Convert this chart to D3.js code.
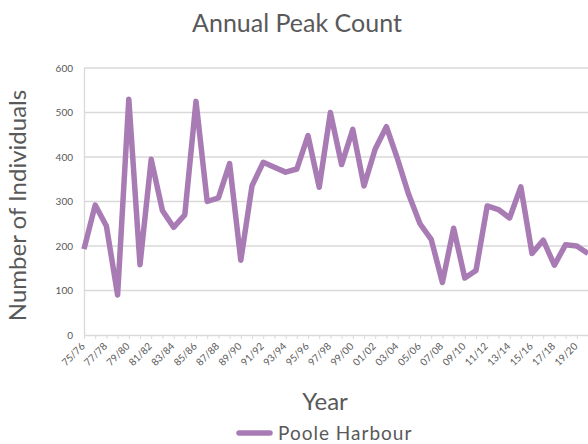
<!DOCTYPE html>
<html>
<head>
<meta charset="utf-8">
<script src="https://cdn.jsdelivr.net/npm/d3@7"></script>
<style>
  body { margin: 0; background: #fff; }
  #chart text { font-family: "Lato", "Open Sans", sans-serif; fill: #595959; }
</style>
</head>
<body>
<div id="chart"></div>
<script>
// seasons 75/76 .. 20/21
const seasons = [
  "75/76","76/77","77/78","78/79","79/80","80/81","81/82","82/83","83/84","84/85",
  "85/86","86/87","87/88","88/89","89/90","90/91","91/92","92/93","93/94","94/95",
  "95/96","96/97","97/98","98/99","99/00","00/01","01/02","02/03","03/04","04/05",
  "05/06","06/07","07/08","08/09","09/10","10/11","11/12","12/13","13/14","14/15",
  "15/16","16/17","17/18","18/19","19/20","20/21"
];
const pooleHarbour = [
  193, 292, 245, 90, 530, 158, 395, 280, 242, 270,
  525, 300, 308, 385, 168, 335, 388, 377, 366, 373,
  448, 332, 500, 383, 462, 335, 418, 468, 395, 315,
  250, 215, 118, 240, 128, 145, 290, 282, 263, 333,
  183, 213, 157, 203, 200, 183
];
const yTicks = [0, 100, 200, 300, 400, 500, 600];

const width = 588, height = 444;
const margin = { top: 68, right: 0, bottom: 109, left: 84 };
const color = "#a87bb4";
const gridColor = "#d9d9d9";

const svg = d3.select("#chart").append("svg")
  .attr("width", width).attr("height", height);

const x = d3.scalePoint().domain(seasons)
  .range([margin.left, width - margin.right]);
const y = d3.scaleLinear().domain([0, 600])
  .range([height - margin.bottom, margin.top]);

// gridlines
svg.append("g")
  .selectAll("line")
  .data(yTicks.filter((d) => d > 0))
  .join("line")
  .attr("x1", margin.left).attr("x2", width)
  .attr("y1", (d) => y(d)).attr("y2", (d) => y(d))
  .attr("stroke", gridColor).attr("stroke-width", 1.3);

// y axis
const yAxis = svg.append("g")
  .attr("transform", `translate(${margin.left},0)`)
  .call(d3.axisLeft(y).tickValues(yTicks).tickSize(0).tickPadding(11));
yAxis.select(".domain").attr("stroke", gridColor).attr("stroke-width", 1.3);
yAxis.selectAll("text").style("font-size", "10px");

// x axis
const xAxis = svg.append("g")
  .attr("transform", `translate(0,${y(0)})`)
  .call(d3.axisBottom(x).tickSize(4).tickSizeOuter(0)
    .tickFormat((d, i) => (i % 2 === 0 ? d : "")));
xAxis.select(".domain").attr("stroke", gridColor).attr("stroke-width", 1.3);
xAxis.selectAll(".tick line").attr("stroke", gridColor);
xAxis.selectAll("text")
  .style("font-size", "10px")
  .attr("text-anchor", "end")
  .attr("dy", null)
  .attr("y", 0)
  .attr("transform", "translate(1,12) rotate(-45)");

// line
const line = d3.line()
  .x((d, i) => x(seasons[i]))
  .y((d) => y(d));

svg.append("path")
  .datum(pooleHarbour)
  .attr("fill", "none")
  .attr("stroke", color)
  .attr("stroke-width", 5.5)
  .attr("stroke-linejoin", "round")
  .attr("d", line);

// titles
svg.append("text")
  .attr("x", 297).attr("y", 32)
  .attr("text-anchor", "middle")
  .style("font-size", "25px")
  .text("Annual Peak Count");

svg.append("text")
  .attr("transform", `translate(26,${(margin.top + y(0)) / 2 + 4}) rotate(-90)`)
  .attr("text-anchor", "middle")
  .style("font-size", "24px")
  .text("Number of Individuals");

svg.append("text")
  .attr("x", 325).attr("y", 410)
  .attr("text-anchor", "middle")
  .style("font-size", "24px")
  .text("Year");

// legend
const legend = svg.append("g").attr("transform", "translate(239,433)");
legend.append("line")
  .attr("x1", 0).attr("x2", 31)
  .attr("stroke", color).attr("stroke-width", 5.5)
  .attr("stroke-linecap", "round");
legend.append("text")
  .attr("x", 39).attr("y", 7)
  .style("font-size", "19px")
  .style("letter-spacing", "1px")
  .text("Poole Harbour");
</script>
</body>
</html>
